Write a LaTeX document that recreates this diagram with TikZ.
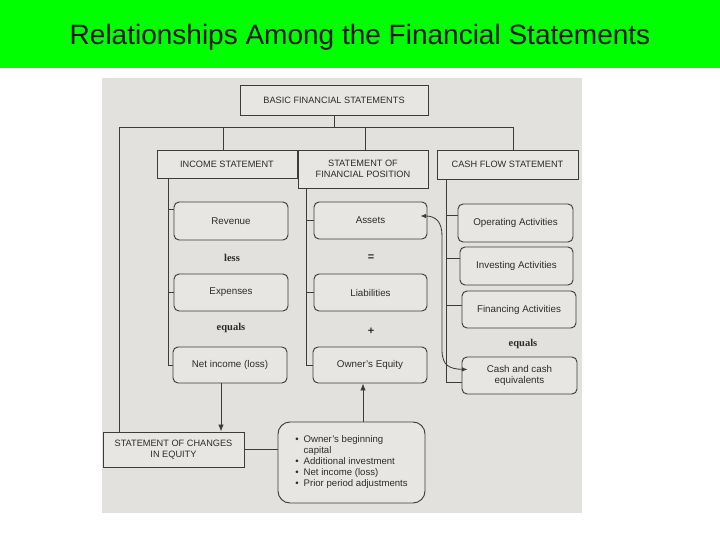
\documentclass[tikz,border=0pt]{standalone}
\usepackage{fontspec}
\setmainfont{Liberation Sans}
\newfontfamily\serifb{Liberation Serif}
\usetikzlibrary{arrows.meta}
\definecolor{slidegreen}{HTML}{00FF00}
\definecolor{scan}{HTML}{E3E1DD}
\definecolor{boxfill}{HTML}{E8E6E2}
\definecolor{ink}{HTML}{3C3C3C}
\definecolor{txt}{HTML}{2C2C2C}
\begin{document}
\begin{tikzpicture}[x=1pt,y=-1pt,
  sq/.style={draw=ink,line width=0.95pt,fill=boxfill,inner sep=0pt,align=center,text=txt,font=\fontsize{9.2}{11}\selectfont},
  rd/.style={sq,rounded corners=5pt,font=\fontsize{9.8}{11}\selectfont},
  conn/.style={draw=ink,line width=0.85pt},
  opword/.style={font=\serifb\bfseries\fontsize{10.5}{11}\selectfont,text=txt},
  tipend/.style={-{Latex[length=7pt,width=5.5pt]}},
  tipboth/.style={{Latex[length=5.5pt,width=4.5pt]}-{Latex[length=5.5pt,width=4.5pt]}}
]
\useasboundingbox (0,0) rectangle (720,540);
\fill[white] (0,0) rectangle (720,540);
\fill[slidegreen] (0,0) rectangle (720,68);
\node[font=\fontsize{28}{32}\selectfont,text=black!90] (title) at (360,37) {Relationships Among the Financial Statements};
\fill[scan] (102,78) rectangle (582,513);

% top level
\node[sq,minimum width=188pt,minimum height=30pt] (bfs) at (334,100) {BASIC FINANCIAL STATEMENTS};
\node[sq,minimum width=140pt,minimum height=28pt] (inc) at (227,164) {INCOME STATEMENT};
\node[sq,minimum width=130pt,minimum height=38pt] (sfp) at (363,169) {STATEMENT OF\\FINANCIAL POSITION};
\node[sq,minimum width=141pt,minimum height=29pt] (cfs) at (507.5,164.5) {CASH FLOW STATEMENT};

% income column
\node[rd,minimum width=114pt,minimum height=38pt] (rev) at (231,221) {Revenue};
\node[opword] (less) at (232,258) {less};
\node[rd,minimum width=114pt,minimum height=37pt] (exp) at (231,292.5) {Expenses};
\node[opword] (eq1) at (231,328) {equals};
\node[rd,minimum width=114pt,minimum height=36pt] (ni) at (230,365) {Net income (loss)};

% position column
\node[rd,minimum width=113pt,minimum height=37pt] (ast) at (370.5,220.5) {Assets};
\node[opword,font=\fontsize{11}{11}\selectfont\bfseries] (eqs) at (371,258) {=};
\node[rd,minimum width=113pt,minimum height=37pt] (lia) at (370.5,292.5) {Liabilities};
\node[opword,font=\fontsize{11}{11}\selectfont\bfseries] (plus) at (371,331) {+};
\node[rd,minimum width=114pt,minimum height=36pt] (oe) at (370,365) {Owner's Equity};

% cash flow column
\node[rd,minimum width=115pt,minimum height=38pt] (op) at (515.5,223) {Operating Activities};
\node[rd,minimum width=113pt,minimum height=38pt] (inv) at (516.5,266) {Investing Activities};
\node[rd,minimum width=114pt,minimum height=37pt] (fin) at (519,309.5) {Financing Activities};
\node[opword] (eq2) at (523,344) {equals};
\node[rd,minimum width=115pt,minimum height=37pt] (cash) at (519.5,375.5) {Cash and cash\\equivalents};

% bottom
\node[sq,minimum width=141pt,minimum height=35pt] (sce) at (173.5,449.5) {STATEMENT OF CHANGES\\IN EQUITY};
\node[sq,rounded corners=12pt,minimum width=147pt,minimum height=81pt] (bul) at (351.5,462.5)
 {\fontsize{9.6}{10.9}\selectfont\begin{tabular}{@{}l@{\hspace{5pt}}l@{}}
 \textbullet & Owner's beginning\\
  & capital\\
 \textbullet & Additional investment\\
 \textbullet & Net income (loss)\\
 \textbullet & Prior period adjustments
 \end{tabular}};

% bus
\coordinate (busL) at (119,127);
\coordinate (busR) at (513,127);
\draw[conn] (busL) -- (busR);
\draw[conn] (bfs.south) -- (bfs.south |- busL);
\draw[conn] ([xshift=-4pt]inc.north |- busL) -- ([xshift=-4pt]inc.north);
\draw[conn] ([xshift=2pt]sfp.north |- busL) -- ([xshift=2pt]sfp.north);
\draw[conn] (busR) -- (busR |- cfs.north);
\draw[conn] (busL) -- (busL |- sce.north);

% spines
\coordinate (incsp) at (168,178);
\draw[conn] (incsp) |- (ni.west);
\draw[conn] ([yshift=12pt]rev.west) -- ([yshift=12pt]rev.west -| incsp);
\draw[conn] (exp.west) -- (exp.west -| incsp);

\coordinate (sfpsp) at (306,188);
\draw[conn] (sfpsp) |- (oe.west);
\draw[conn] (ast.west) -- (ast.west -| sfpsp);
\draw[conn] (lia.west) -- (lia.west -| sfpsp);

\coordinate (cfssp) at (446,179);
\draw[conn] (cfssp) |- ([yshift=-7pt]cash.west);
\draw[conn] ([yshift=8pt]op.west) -- ([yshift=8pt]op.west -| cfssp);
\draw[conn] ([yshift=8pt]inv.west) -- ([yshift=8pt]inv.west -| cfssp);
\draw[conn] ([yshift=4pt]fin.west) -- ([yshift=4pt]fin.west -| cfssp);

% arrows
\draw[conn,tipend] ([xshift=-9pt]ni.south) -- ([xshift=-9pt]ni.south |- sce.north);
\draw[conn] (sce.east) -- (sce.east -| bul.west);
\draw[conn,tipend] ([xshift=11.5pt]bul.north) -- ([xshift=11.5pt]bul.north |- oe.south);
\coordinate (aend) at ([xshift=-7pt,yshift=4.5pt]ast.east);
\coordinate (cend) at ([xshift=6pt,yshift=6pt]cash.west);
\draw[conn,tipboth] (aend) .. controls (436,216) and (442,222) .. (442,236) -- (442,350) .. controls (442,366) and (450,369) .. (cend);
\end{tikzpicture}
\end{document}
